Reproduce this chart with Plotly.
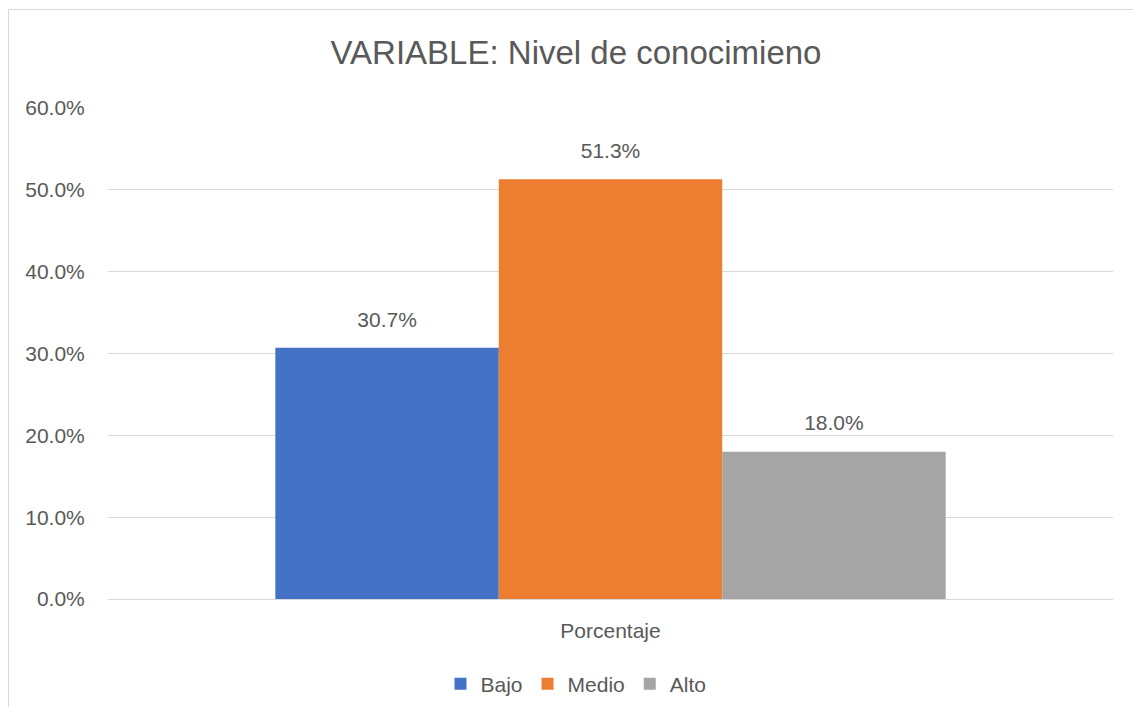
import plotly.graph_objects as go

categories = ["Porcentaje"]
series_names = ["Bajo", "Medio", "Alto"]
series_values = [[0.307], [0.513], [0.180]]
series_colors = ["#4472C4", "#ED7D31", "#A5A5A5"]
y_ticks = [0.0, 0.1, 0.2, 0.3, 0.4, 0.5, 0.6]

OFF = 8  # page body margin
W, H = 1141 - 2 * OFF, 715 - 2 * OFF
# plot area in screen pixels: x 108..1113, y 108..599
ml, mt = 108 - OFF, 108 - OFF
mr = (OFF + W) - 1113
mb = (OFF + H) - 599
pw, ph = 1113 - 108, 599 - 108

FONT = "Liberation Sans, Arial, sans-serif"
TXT = "#595959"
FS = 21

fig = go.Figure()
for name, vals, col in zip(series_names, series_values, series_colors):
    fig.add_trace(go.Bar(
        x=categories, y=vals, name=name, marker_color=col, marker_line_width=0,
        hoverinfo="skip",
    ))
for name, vals in zip(series_names, series_values):
    fig.add_trace(go.Scatter(
        x=categories, y=vals, name=name, mode="markers+text", showlegend=False,
        marker=dict(size=24, opacity=0), texttemplate="%{y:.1%}",
        textposition="top center", cliponaxis=False,
        textfont=dict(family=FONT, size=FS, color=TXT), hoverinfo="skip",
    ))

def px_x(p):
    return (p - 108) / pw

def px_y(p):
    return (599 - p) / ph

border = dict(color="#D9D9D9", width=1)
fig.update_layout(
    width=W, height=H, barmode="group", bargap=0.333, bargroupgap=0,
    scattermode="group", scattergap=0.333,
    paper_bgcolor="white", plot_bgcolor="white",
    margin=dict(l=ml, r=mr, t=mt, b=mb, autoexpand=False),
    title=dict(text="VARIABLE: Nivel de conocimieno", x=px_x(576), xanchor="center",
               xref="paper", y=1 - (52 - OFF) / H, yanchor="middle",
               font=dict(family=FONT, size=33, color=TXT)),
    font=dict(family=FONT, size=FS, color=TXT),
    showlegend=True,
    legend=dict(orientation="h", x=px_x(576), xanchor="center", y=px_y(684), yanchor="middle",
                font=dict(family=FONT, size=FS, color=TXT), itemwidth=30,
                traceorder="normal"),
    shapes=[
        dict(type="line", xref="paper", yref="paper", x0=px_x(8.5), x1=px_x(1200),
             y0=px_y(9.5), y1=px_y(9.5), line=border, layer="below"),
        dict(type="line", xref="paper", yref="paper", x0=px_x(8.5), x1=px_x(8.5),
             y0=px_y(9.5), y1=px_y(800), line=border, layer="below"),
    ],
)
fig.update_yaxes(range=[0, 0.6], tickvals=y_ticks, tickformat=".1%",
                 showgrid=True, gridcolor="#D9D9D9", gridwidth=1,
                 zeroline=False, showline=False,
                 ticks="outside", ticklen=18, tickcolor="rgba(0,0,0,0)",
                 tickfont=dict(family=FONT, size=FS, color=TXT))
fig.update_xaxes(showline=True, linecolor="#D9D9D9", linewidth=1,
                 ticks="outside", ticklen=13, tickcolor="rgba(0,0,0,0)",
                 tickfont=dict(family=FONT, size=FS, color=TXT))

fig.write_html("out.html")
